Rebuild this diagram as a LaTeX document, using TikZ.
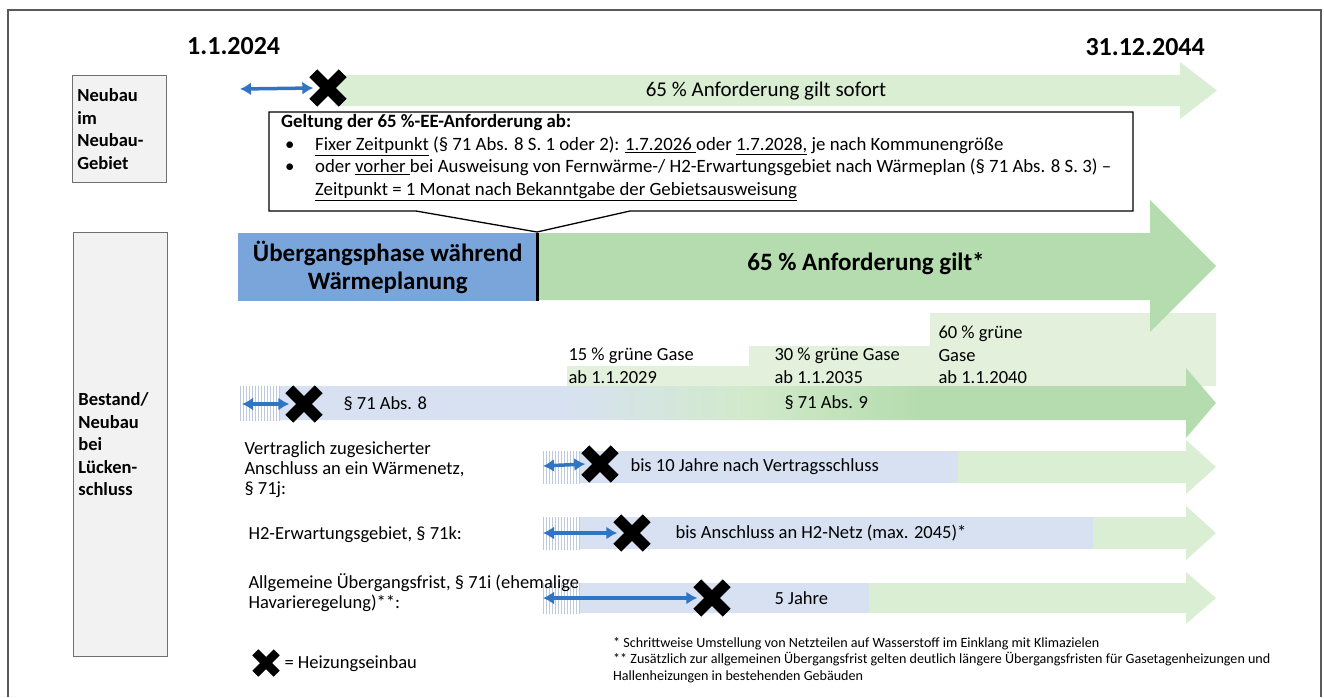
\documentclass[tikz,border=0pt]{standalone}
\usepackage{fontspec}
\setmainfont{Carlito}
\usetikzlibrary{arrows.meta,patterns}
\definecolor{frameGray}{HTML}{595959}
\definecolor{boxGray}{HTML}{F2F2F2}
\definecolor{boxLine}{HTML}{6F6F6F}
\definecolor{paleGreen}{HTML}{DAEED4}
\definecolor{midGreen}{HTML}{B4DCAE}
\definecolor{lightGreen}{HTML}{D2EACB}
\definecolor{stepGreen}{HTML}{E2F0DC}
\definecolor{paleBlue}{HTML}{D7E1F2}
\definecolor{hatchBlue}{HTML}{BFC9DE}
\definecolor{phaseBlue}{HTML}{7AA5DB}
\definecolor{arrowBlue}{HTML}{2F75C4}
\pgfdeclarehorizontalshading{paraShade}{100bp}{color(0bp)=(paleBlue); color(41.5bp)=(paleBlue); color(51bp)=(lightGreen); color(60bp)=(midGreen); color(100bp)=(midGreen)}

\begin{document}
\begin{tikzpicture}[x=1pt,y=-1pt,
  sidebox/.style={draw=boxLine, fill=boxGray, thick, anchor=north west, align=left, text width=84pt, inner sep=5pt, font=\bfseries\fontsize{18.5}{22.5}\selectfont},
  rowtext/.style={anchor=west, align=left, font=\fontsize{18.5}{20}\selectfont},
  bartext/.style={anchor=west, font=\fontsize{18.5}{22}\selectfont},
  steptext/.style={anchor=west, align=left, font=\fontsize{18.5}{22.5}\selectfont},
  crossmark/.style={minimum size=29pt, inner sep=0pt},
  xstroke/.style={line width=11pt},
  dblarrow/.style={arrowBlue, line width=3.5pt, {Latex[length=11pt,width=13pt]}-{Latex[length=11pt,width=13pt]}},
  hatch/.style={pattern=vertical lines, pattern color=hatchBlue}]
\useasboundingbox (0,0) rectangle (1324,697);
\draw[frameGray, line width=2pt] (8,697) -- (8,10) -- (1321,10) -- (1321,697);

% dates
\node (d1) [anchor=west, inner sep=0pt, font=\bfseries\fontsize{26}{30}\selectfont] at (187,46) {1.1.2024};
\node (d2) [anchor=east, inner sep=0pt, font=\bfseries\fontsize{26}{30}\selectfont] at (1205,47) {31.12.2044};

% row: Neubau im Neubaugebiet
\node (nb) [sidebox, minimum height=107pt] at (72,75) {Neubau\\im\\Neubau-\\Gebiet};
\fill[paleGreen] (335,75) -- (1180,75) -- (1180,62) -- (1217,90.5) -- (1180,119) -- (1180,106) -- (335,106) -- cycle;
\node (t1) [font=\fontsize{21}{24}\selectfont] at (766,91) {65 \% Anforderung gilt sofort};
\node (x1) [crossmark] at (328,88) {};
\coordinate (a1) at (240,89);
\draw[dblarrow] (a1) -- (x1.west);

% callout
\draw[fill=white, line width=1.3pt] (269,112) -- (1133,112) -- (1133,211) -- (630,211) -- (537,232) -- (416,211) -- (269,211) -- cycle;
\node (call) [anchor=north west, align=left, inner sep=0pt, font=\fontsize{18.8}{22.5}\selectfont] at (281,114.5) {%
\textbf{Geltung der 65 \%-EE-Anforderung ab:}\\
\makebox[34pt][l]{\hspace*{4pt}•}\underline{Fixer Zeitpunkt} (§ 71 Abs. 8 S. 1 oder 2): \underline{1.7.2026\ }oder \underline{1.7.2028,} je nach Kommunengröße\\
\makebox[34pt][l]{\hspace*{4pt}•}oder \underline{vorher\ }bei Ausweisung von Fernwärme-/ H2-Erwartungsgebiet nach Wärmeplan (§ 71 Abs. 8 S. 3) –\\
\hspace*{34pt}\underline{Zeitpunkt = 1 Monat nach Bekanntgabe der Gebietsausweisung}};

% row: Bestand / Neubau bei Lueckenschluss
\node (bs) [sidebox, minimum height=424pt] at (73,232) {Bestand/\\Neubau\\bei\\Lücken-\\schluss};

% green gas steps
\fill[stepGreen] (567,386) -- (567,366) -- (749,366) -- (749,346) -- (930,346) -- (930,313) -- (1216,313) -- (1216,386) -- cycle;
\node (g1) [steptext] at (565,366) {15 \% grüne Gase\\ab 1.1.2029};
\node (g2) [steptext] at (771,366) {30 \% grüne Gase\\ab 1.1.2035};
\node (g3) [steptext] at (935,355) {60 \% grüne\\Gase\\ab 1.1.2040};

% main requirement arrow
\fill[midGreen] (538,233) -- (1150,233) -- (1150,200) -- (1216,266) -- (1150,332) -- (1150,300) -- (538,300) -- cycle;
\node (phase) [fill=phaseBlue, anchor=north west, minimum width=299pt, minimum height=68pt, align=center, font=\bfseries\fontsize{25}{27.5}\selectfont] at (238,233) {Übergangsphase während\\Wärmeplanung};
\draw[line width=3pt] (537,233) -- (537,301);
\node (t2) [font=\bfseries\fontsize{25}{28}\selectfont] at (866,264) {65 \% Anforderung gilt*};

% paragraph 71 arrow
\shade[shading=paraShade] (238,386) -- (1186,386) -- (1186,368) -- (1216,403) -- (1186,438) -- (1186,420) -- (238,420) -- cycle;
\fill[white] (238,386) rectangle (280,420);
\fill[hatch] (238,386) rectangle (280,420);
\node (p8) [bartext] at (340,404) {§ 71 Abs. 8};
\node (p9) [bartext] at (781,403) {§ 71 Abs. 9};
\node (x2) [crossmark] at (304,404) {};
\coordinate (a2) at (242,404);
\draw[dblarrow] (a2) -- (x2.west);

% row 71j
\fill[paleGreen] (541,451) -- (1186,451) -- (1186,440) -- (1216,467) -- (1186,494) -- (1186,483) -- (541,483) -- cycle;
\fill[paleBlue] (541,451) rectangle (958,483);
\fill[white] (541,451) rectangle (580,483);
\fill[hatch] (541,451) rectangle (580,483);
\node (rj) [rowtext] at (241,470) {Vertraglich zugesicherter\\Anschluss an ein Wärmenetz,\\§ 71j:};
\node (bj) [bartext] at (627,467) {bis 10 Jahre nach Vertragsschluss};
\node (x3) [crossmark] at (600,464) {};
\coordinate (a3) at (543,466);
\draw[dblarrow] (a3) -- (x3.west);

% row 71k
\fill[paleGreen] (541,517) -- (1186,517) -- (1186,506) -- (1216,533) -- (1186,560) -- (1186,549) -- (541,549) -- cycle;
\fill[paleBlue] (541,517) rectangle (1093,549);
\fill[white] (541,517) rectangle (580,549);
\fill[hatch] (541,517) rectangle (580,549);
\node (rk) [rowtext] at (245,535) {H2-Erwartungsgebiet, § 71k:};
\node (bk) [bartext] at (672,533) {bis Anschluss an H2-Netz (max. 2045)*};
\node (x4) [crossmark] at (632,533) {};
\coordinate (a4) at (543,533);
\draw[dblarrow] (a4) -- (x4.west);

% row 71i
\fill[paleGreen] (541,583) -- (1186,583) -- (1186,572) -- (1216,598) -- (1186,624) -- (1186,613) -- (541,613) -- cycle;
\fill[paleBlue] (541,583) rectangle (869,613);
\fill[white] (541,583) rectangle (580,613);
\fill[hatch] (541,583) rectangle (580,613);
\node (ri) [rowtext] at (245,593) {Allgemeine Übergangsfrist, § 71i (ehemalige\\Havarieregelung)**:};
\node (bi) [bartext] at (771,598) {5 Jahre};
\node (x5) [crossmark] at (712,598) {};
\coordinate (a5) at (543,598);
\draw[dblarrow] (a5) -- (x5.west);

% legend and notes
\node (x6) [crossmark, minimum size=21pt] at (266,663) {};
\node (leg) [bartext] at (281,664) {= Heizungseinbau};
\node (fn) [anchor=west, align=left, inner sep=0pt, font=\fontsize{14.1}{16.5}\selectfont] at (613,660) {%
* Schrittweise Umstellung von Netzteilen auf Wasserstoff im Einklang mit Klimazielen\\
** Zusätzlich zur allgemeinen Übergangsfrist gelten deutlich längere Übergangsfristen für Gasetagenheizungen und\\
Hallenheizungen in bestehenden Gebäuden};

% heating installation marks
\foreach \n in {x1,x2,x3,x4,x5}
  \draw[xstroke] (\n.north west) -- (\n.south east) (\n.north east) -- (\n.south west);
\draw[line width=8.5pt] (x6.north west) -- (x6.south east) (x6.north east) -- (x6.south west);
\end{tikzpicture}
\end{document}
